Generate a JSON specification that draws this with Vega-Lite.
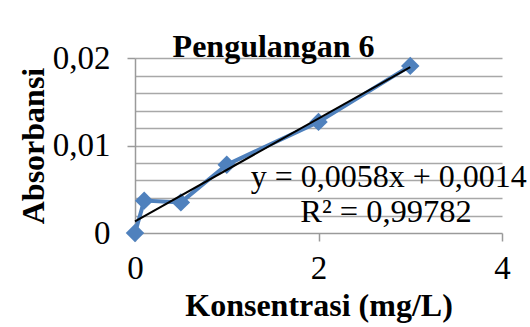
{
  "$schema": "https://vega.github.io/schema/vega-lite/v6.json",
  "autosize": {"type": "none"},
  "padding": {"left": 135, "top": 58, "right": 28, "bottom": 94},
  "width": 367,
  "height": 175,
  "background": "white",
  "title": {
    "text": "Pengulangan 6",
    "font": "Liberation Serif",
    "fontSize": 32,
    "fontWeight": "bold",
    "color": "black",
    "anchor": "middle",
    "frame": "group",
    "dx": -45,
    "baseline": "alphabetic",
    "offset": -47
  },
  "config": {
    "view": {"stroke": null},
    "axis": {
      "labelFont": "Liberation Serif",
      "labelFontSize": 33,
      "labelColor": "black",
      "labelFlush": false,
      "titleFont": "Liberation Serif",
      "titleFontSize": 32,
      "titleFontWeight": "bold",
      "titleColor": "black",
      "domainColor": "#9a9a9a",
      "tickColor": "#9a9a9a",
      "gridColor": "#a8a8a8",
      "domainWidth": 1.5,
      "tickWidth": 1.5,
      "gridWidth": 1.5
    }
  },
  "data": {
    "values": [
      {"konsentrasi": 0, "absorbansi": 0},
      {"konsentrasi": 0.1, "absorbansi": 0.0037},
      {"konsentrasi": 0.5, "absorbansi": 0.0035},
      {"konsentrasi": 1, "absorbansi": 0.0078},
      {"konsentrasi": 2, "absorbansi": 0.0127},
      {"konsentrasi": 3, "absorbansi": 0.0191}
    ]
  },
  "layer": [
    {
      "mark": {"type": "line", "color": "#4F81BD", "strokeWidth": 4},
      "encoding": {
        "x": {
          "field": "konsentrasi",
          "type": "quantitative",
          "scale": {"domain": [0, 4], "nice": false},
          "axis": {
            "values": [0, 2, 4],
            "format": "d",
            "grid": false,
            "tickSize": 8,
            "labelPadding": 11,
            "labelFlush": false,
            "title": "Konsentrasi (mg/L)",
            "titleY": 82,
            "titleBaseline": "alphabetic"
          }
        },
        "y": {
          "field": "absorbansi",
          "type": "quantitative",
          "scale": {"domain": [0, 0.02], "nice": false},
          "axis": {
            "values": [0, 0.01, 0.02],
            "grid": false,
            "tickSize": 8,
            "labelPadding": 17,
            "labelFlush": false,
            "labelExpr": "replace(toString(datum.value), '.', ',')",
            "title": "Absorbansi",
            "titleX": -102,
            "titleY": 87.5,
            "titleAngle": -90,
            "titleAlign": "center",
            "titleBaseline": "middle"
          }
        }
      }
    },
    {
      "mark": {"type": "point", "shape": "diamond", "size": 340, "filled": true, "opacity": 1, "color": "#4F81BD"},
      "encoding": {
        "x": {"field": "konsentrasi", "type": "quantitative", "axis": null},
        "y": {"field": "absorbansi", "type": "quantitative", "axis": null}
      }
    },
    {
      "transform": [
        {"regression": "absorbansi", "on": "konsentrasi", "extent": [0, 3]}
      ],
      "mark": {"type": "line", "color": "black", "strokeWidth": 2},
      "encoding": {
        "x": {"field": "konsentrasi", "type": "quantitative", "axis": null},
        "y": {
          "field": "absorbansi",
          "type": "quantitative",
          "axis": {
            "orient": "right",
            "values": [0.002, 0.004, 0.006, 0.008, 0.01, 0.012, 0.014, 0.016, 0.018, 0.02],
            "grid": true,
            "labels": false,
            "ticks": false,
            "domain": false,
            "title": null,
            "zindex": 0
          }
        }
      }
    },
    {
      "data": {"values": [{"label": "y = 0,0058x + 0,0014"}]},
      "mark": {"type": "text", "font": "Liberation Serif", "fontSize": 32, "color": "black", "align": "right", "baseline": "alphabetic"},
      "encoding": {
        "x": {"datum": 4.27, "type": "quantitative", "axis": null},
        "y": {"datum": 0.00526, "type": "quantitative", "axis": null},
        "text": {"field": "label"}
      }
    },
    {
      "data": {"values": [{"label": "R² = 0,99782"}]},
      "mark": {"type": "text", "font": "Liberation Serif", "fontSize": 32.5, "color": "black", "align": "center", "baseline": "alphabetic"},
      "encoding": {
        "x": {"datum": 2.736, "type": "quantitative", "axis": null},
        "y": {"datum": 0.00126, "type": "quantitative", "axis": null},
        "text": {"field": "label"}
      }
    }
  ],
  "resolve": {"axis": {"x": "independent", "y": "independent"}}
}
